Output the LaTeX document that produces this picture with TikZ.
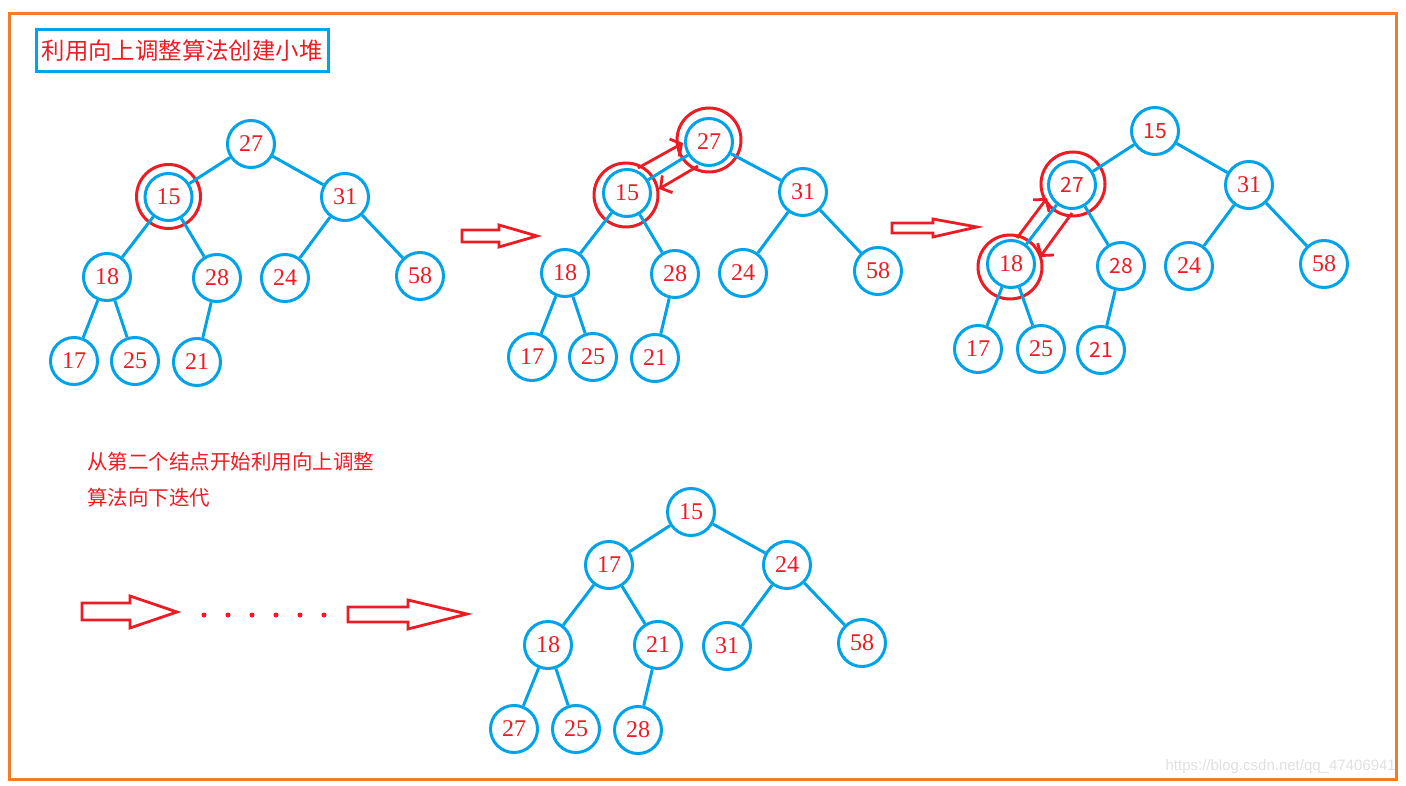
\documentclass[tikz,border=0pt]{standalone}
\usepackage{fontspec}
\setmainfont{Liberation Serif}
\newfontfamily\cjk{Noto Sans CJK SC}
\newfontfamily\urlfont{Liberation Sans}
\usepackage{tikz}
\usetikzlibrary{arrows.meta}
\definecolor{paintblue}{RGB}{0,162,232}
\definecolor{paintred}{RGB}{237,28,36}
\definecolor{paintorange}{RGB}{240,125,45}
\tikzset{
  vtx/.style={circle,draw=paintblue,line width=3pt,minimum size=47pt,inner sep=0pt,
    text=paintred,font=\fontsize{24}{26}\selectfont},
  vtxsans/.style={vtx,font=\cjk\fontsize{21}{23}\selectfont},
  edge/.style={draw=paintblue,line width=3pt},
  ring/.style={circle,draw=paintred,line width=3pt,minimum size=64pt,inner sep=0pt},
  swaparrow/.style={draw=paintred,line width=2.8pt,-{Straight Barb[length=8pt,width=20pt]}},
  blockarrow/.style={draw=paintred,line width=2.8pt,line join=miter},
  note/.style={text=paintred,font=\cjk\fontsize{20.5}{22}\selectfont,inner sep=0pt}
}
\begin{document}
\begin{tikzpicture}[x=1pt,y=-1pt]
\useasboundingbox (0,0) rectangle (1406,786);
\draw[paintorange,line width=3pt] (9,13.5) rectangle (1396,779);
\node[draw=paintblue,line width=3pt,minimum width=292pt,minimum height=42pt,inner sep=0pt,
  text=paintred,font=\cjk\fontsize{23.4}{25}\selectfont] (title) at (182,51) {利用向上调整算法创建小堆};

\node[vtx] (a27) at (251,144) {27};
\node[vtx] (a15) at (168.5,197) {15};
\node[vtx] (a31) at (345,197) {31};
\node[vtx] (a18) at (107,277) {18};
\node[vtx] (a28) at (217,278) {28};
\node[vtx] (a24) at (285,278) {24};
\node[vtx] (a58) at (420,276) {58};
\node[vtx] (a17) at (74,361) {17};
\node[vtx] (a25) at (135,361) {25};
\node[vtx] (a21) at (197,362) {21};
\node[ring] (a15ring) at (168.5,196.5) {};
\draw[edge] (a27) -- (a15);
\draw[edge] (a27) -- (a31);
\draw[edge] (a15) -- (a18);
\draw[edge] (a15) -- (a28);
\draw[edge] (a31) -- (a24);
\draw[edge] (a31) -- (a58);
\draw[edge] (a18) -- (a17);
\draw[edge] (a18) -- (a25);
\draw[edge] (a28) -- (a21);

\draw[blockarrow] (462,230) -- (499,230) -- (499,225) -- (537,236) -- (499,247) -- (499,242) -- (462,242) -- cycle;

\node[vtx] (b27) at (709,142) {27};
\node[vtx] (b15) at (627,193) {15};
\node[vtx] (b31) at (803,192) {31};
\node[vtx] (b18) at (565,273) {18};
\node[vtx] (b28) at (675,274) {28};
\node[vtx] (b24) at (743,273) {24};
\node[vtx] (b58) at (878,271) {58};
\node[vtx] (b17) at (532,357) {17};
\node[vtx] (b25) at (593,357) {25};
\node[vtx] (b21) at (655,358) {21};
\node[ring] (b27ring) at (709,140) {};
\node[ring] (b15ring) at (626,195) {};
\draw[edge] (b27) -- (b15);
\draw[edge] (b27) -- (b31);
\draw[edge] (b15) -- (b18);
\draw[edge] (b15) -- (b28);
\draw[edge] (b31) -- (b24);
\draw[edge] (b31) -- (b58);
\draw[edge] (b18) -- (b17);
\draw[edge] (b18) -- (b25);
\draw[edge] (b28) -- (b21);
\coordinate (bup0) at (638,168);
\coordinate (bup1) at (683,143);
\coordinate (bdown0) at (698,166);
\coordinate (bdown1) at (659,189);
\draw[swaparrow] (bup0) -- (bup1);
\draw[swaparrow] (bdown0) -- (bdown1);

\draw[blockarrow] (892,223) -- (933,223) -- (933,219) -- (977,227) -- (933,237) -- (933,233) -- (892,233) -- cycle;

\node[vtxsans] (c15) at (1155,131) {15};
\node[vtxsans] (c27) at (1072,185) {27};
\node[vtx] (c31) at (1249,185) {31};
\node[vtx] (c18) at (1011,264) {18};
\node[vtxsans] (c28) at (1121,266) {28};
\node[vtx] (c24) at (1189,266) {24};
\node[vtx] (c58) at (1324,264) {58};
\node[vtx] (c17) at (978,349) {17};
\node[vtx] (c25) at (1041,349) {25};
\node[vtxsans] (c21) at (1101,350) {21};
\node[ring] (c27ring) at (1073,184) {};
\node[ring] (c18ring) at (1010,267) {};
\draw[edge] (c15) -- (c27);
\draw[edge] (c15) -- (c31);
\draw[edge] (c27) -- (c18);
\draw[edge] (c27) -- (c28);
\draw[edge] (c31) -- (c24);
\draw[edge] (c31) -- (c58);
\draw[edge] (c18) -- (c17);
\draw[edge] (c18) -- (c25);
\draw[edge] (c28) -- (c21);
\coordinate (cup0) at (1017,238);
\coordinate (cup1) at (1047,198);
\coordinate (cdown0) at (1072,213);
\coordinate (cdown1) at (1040,257);
\draw[swaparrow] (cup0) -- (cup1);
\draw[swaparrow] (cdown0) -- (cdown1);

\node[note,anchor=west] (line1) at (87,462) {从第二个结点开始利用向上调整};
\node[note,anchor=west] (line2) at (87,498) {算法向下迭代};

\draw[blockarrow] (82,603) -- (130,603) -- (130,596) -- (177,612) -- (130,628) -- (130,620) -- (82,620) -- cycle;
\fill[paintred] (204,615) circle (2.5);
\fill[paintred] (228,615) circle (2.5);
\fill[paintred] (252,615) circle (2.5);
\fill[paintred] (276,615) circle (2.5);
\fill[paintred] (300,615) circle (2.5);
\fill[paintred] (324,615) circle (2.5);
\draw[blockarrow] (348,607) -- (408,607) -- (408,600) -- (467,614) -- (408,629) -- (408,622) -- (348,622) -- cycle;

\node[vtx] (d15) at (691,512) {15};
\node[vtx] (d17) at (609,565) {17};
\node[vtx] (d24) at (787,565) {24};
\node[vtx] (d18) at (548,645) {18};
\node[vtx] (d21) at (658,645) {21};
\node[vtx] (d31) at (727,646) {31};
\node[vtx] (d58) at (862,643) {58};
\node[vtx] (d27) at (514,729) {27};
\node[vtx] (d25) at (576,729) {25};
\node[vtx] (d28) at (638,730) {28};
\draw[edge] (d15) -- (d17);
\draw[edge] (d15) -- (d24);
\draw[edge] (d17) -- (d18);
\draw[edge] (d17) -- (d21);
\draw[edge] (d24) -- (d31);
\draw[edge] (d24) -- (d58);
\draw[edge] (d18) -- (d27);
\draw[edge] (d18) -- (d25);
\draw[edge] (d21) -- (d28);

\node[anchor=east,text=black!12,font=\urlfont\fontsize{15}{17}\selectfont,inner sep=0pt] (mark0) at (1396,767) {https://blog.csdn.net/qq\_47406941};
\end{tikzpicture}
\end{document}
